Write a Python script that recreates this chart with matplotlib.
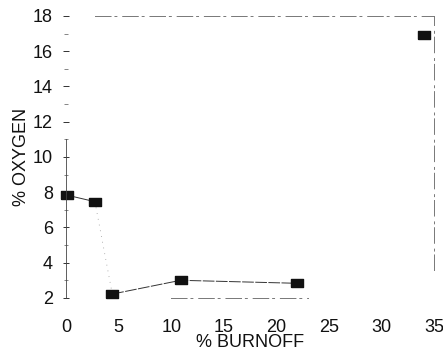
import matplotlib
matplotlib.use("Agg")
import matplotlib.pyplot as plt

plt.rcParams["font.family"] = ["Liberation Sans", "DejaVu Sans"]

# data
burnoff = [0.1, 2.75, 4.4, 10.9, 22.0, 34.0]
oxygen = [7.83, 7.46, 2.22, 3.0, 2.83, 16.9]

x_ticks = [0, 5, 10, 15, 20, 25, 30, 35]
y_ticks = [2, 4, 6, 8, 10, 12, 14, 16, 18]

INK = "#111111"
box = [(-1, -0.6), (1, -0.6), (1, 0.6), (-1, 0.6), (-1, -0.6)]

fig = plt.figure(figsize=(4.43, 3.53), dpi=100)
ax = fig.add_axes([0.149, 0.156, 0.831, 0.799])

# connecting lines, faint like the scan
ax.plot(burnoff[0:2], oxygen[0:2], color="#333333", lw=0.7)
ax.plot(burnoff[1:3], oxygen[1:3], color="#999999", lw=0.6, ls=(0, (1, 6)))
ax.plot(burnoff[2:5], oxygen[2:5], color="#333333", lw=0.7, ls=(0, (12, 1.5)))
ax.plot(burnoff, oxygen, ls="none", marker=box, ms=9, color=INK, clip_on=False)

ax.set_xlim(0, 35)
ax.set_ylim(2, 18)
ax.set_xticks(x_ticks)
ax.set_yticks(y_ticks)
ax.set_yticks([3, 5, 7, 9, 11, 13, 15, 17], minor=True)
ax.tick_params(axis="x", length=0, pad=15, labelsize=13, colors=INK)
ax.tick_params(axis="y", which="major", direction="inout", length=5,
               width=0.6, pad=7, labelsize=13, colors=INK)
ax.tick_params(axis="y", which="minor", direction="inout", length=3,
               width=0.5, color="#555555")

for side in ["top", "right", "bottom"]:
    ax.spines[side].set_linestyle((0, (16, 4, 2, 6)))
    ax.spines[side].set_color("#777777")
    ax.spines[side].set_linewidth(0.7)
ax.spines["top"].set_bounds(2.8, 35)
ax.spines["right"].set_bounds(3.6, 18)
ax.spines["bottom"].set_bounds(10, 23)
ax.spines["left"].set_bounds(2, 11)
ax.spines["left"].set_color("#444444")
ax.spines["left"].set_linewidth(0.6)

ax.set_xlabel("% BURNOFF", fontsize=13, color=INK, labelpad=-1)
ax.set_ylabel("% OXYGEN", fontsize=13, color=INK, labelpad=2)

fig.savefig("out.png", dpi=100)
